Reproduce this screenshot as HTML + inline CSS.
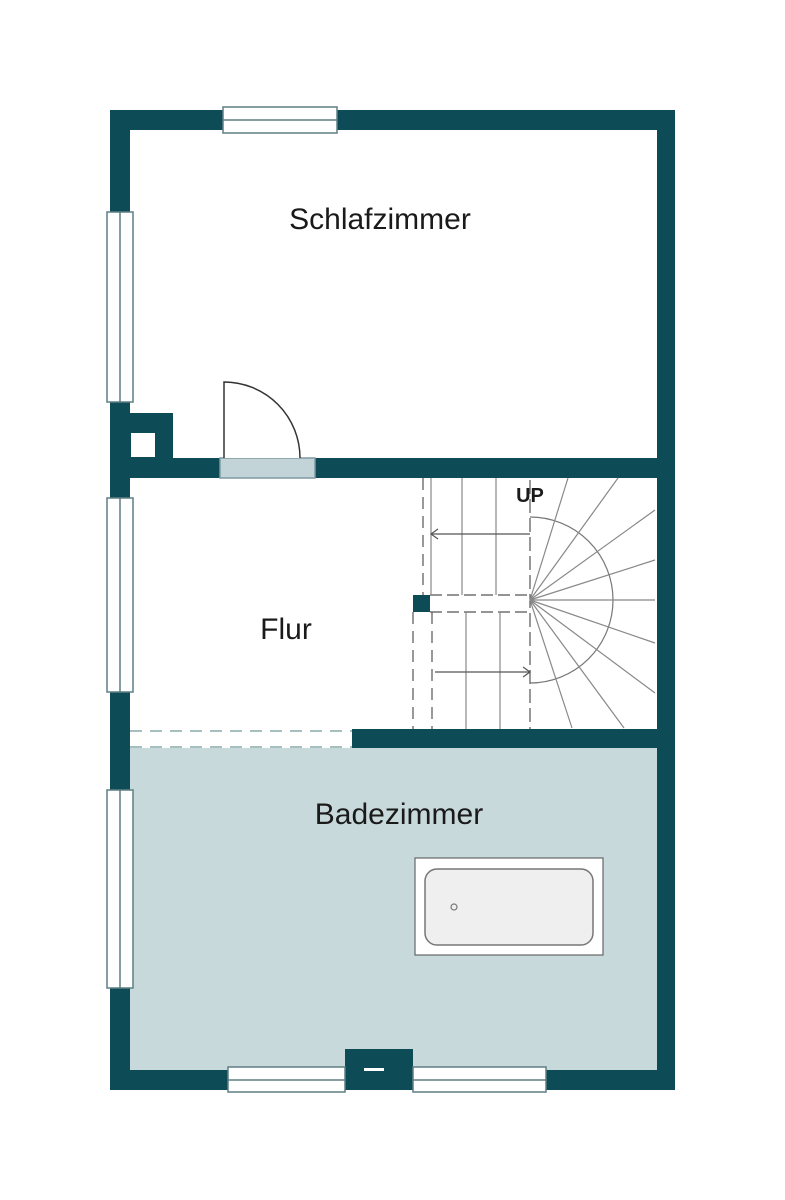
<!DOCTYPE html>
<html><head><meta charset="utf-8"><style>
html,body{margin:0;padding:0;background:#fff;}
svg{display:block;}
text{font-family:"Liberation Sans",Arial,sans-serif;fill:#1a1a1a;}
</style></head><body>
<svg width="785" height="1200" viewBox="0 0 785 1200" xmlns="http://www.w3.org/2000/svg">
<rect width="785" height="1200" fill="#fff"/>
<rect x="130" y="748" width="527" height="322" fill="#c8d9dc"/>
<g fill="#0d4c56">
<rect x="110" y="110" width="565" height="20"/>
<rect x="110" y="1070" width="565" height="20"/>
<rect x="110" y="110" width="20" height="980"/>
<rect x="657" y="110" width="18" height="980"/>
<rect x="130" y="458" width="90" height="20"/>
<rect x="315" y="458" width="342" height="20"/>
<rect x="128" y="413" width="45" height="47"/>
<rect x="352" y="729" width="305" height="19"/>
<rect x="345" y="1049" width="68" height="41"/>
<rect x="413" y="595" width="17" height="17"/>
</g>
<rect x="131" y="433" width="24" height="24" fill="#fff"/>
<rect x="364" y="1068" width="20" height="3" fill="#fff"/>
<g fill="#fff" stroke="#5e7f84" stroke-width="1.5">
<rect x="223" y="107" width="114" height="26"/>
<line x1="223" y1="120" x2="337" y2="120"/>
<rect x="107" y="212" width="26" height="190"/>
<line x1="120" y1="212" x2="120" y2="402"/>
<rect x="107" y="498" width="26" height="194"/>
<line x1="120" y1="498" x2="120" y2="692"/>
<rect x="107" y="790" width="26" height="198"/>
<line x1="120" y1="790" x2="120" y2="988"/>
<rect x="228" y="1067" width="117" height="25"/>
<line x1="228" y1="1080" x2="345" y2="1080"/>
<rect x="413" y="1067" width="133" height="25"/>
<line x1="413" y1="1080" x2="546" y2="1080"/>
</g>
<rect x="220" y="458" width="95" height="20" fill="#c2d4d8" stroke="#7f9aa0" stroke-width="1.5"/>
<path d="M224 458 L224 382 A76 76 0 0 1 300 458" fill="#fff" stroke="#333" stroke-width="1.5"/>
<rect x="130" y="729" width="222" height="19" fill="#fff"/>
<g stroke="#8aa" stroke-width="1.5" stroke-dasharray="12,8" fill="none">
<line x1="130" y1="731" x2="352" y2="731"/>
<line x1="130" y1="747" x2="352" y2="747"/>
</g>
<g stroke="#555" stroke-width="1.2" fill="none">
<line x1="423" y1="478" x2="423" y2="595" stroke-dasharray="12,7"/>
<line x1="413" y1="612" x2="413" y2="729" stroke-dasharray="12,7"/>
<line x1="432" y1="612" x2="432" y2="729" stroke-dasharray="12,7"/>
<line x1="430" y1="595" x2="530" y2="595" stroke-dasharray="12,5"/>
<line x1="430" y1="612" x2="530" y2="612" stroke-dasharray="12,5"/>
<line x1="530" y1="480" x2="530" y2="729" stroke-dasharray="14,5"/>
<line x1="431" y1="478" x2="431" y2="595" stroke="#888"/>
<line x1="462" y1="478" x2="462" y2="595" stroke="#888"/>
<line x1="496" y1="478" x2="496" y2="595" stroke="#888"/>
<line x1="466" y1="612" x2="466" y2="729" stroke="#888"/>
<line x1="500" y1="612" x2="500" y2="729" stroke="#888"/>
<line x1="530" y1="534" x2="431" y2="534"/>
<path d="M438 529 L431 534 L438 539"/>
<line x1="435" y1="672" x2="530" y2="672"/>
<path d="M523 667 L530 672 L523 677"/>
<path d="M530 517 A83 83 0 0 1 530 683" stroke="#777"/>
<g stroke="#888">
<line x1="530" y1="600" x2="568" y2="478"/>
<line x1="530" y1="600" x2="618" y2="478"/>
<line x1="530" y1="600" x2="655" y2="510"/>
<line x1="530" y1="600" x2="655" y2="560"/>
<line x1="530" y1="600" x2="655" y2="600"/>
<line x1="530" y1="600" x2="655" y2="643"/>
<line x1="530" y1="600" x2="655" y2="693"/>
<line x1="530" y1="600" x2="624" y2="728"/>
<line x1="530" y1="600" x2="572" y2="728"/>
</g>
</g>
<text x="530" y="502" font-size="20" font-weight="bold" text-anchor="middle">UP</text>
<rect x="415" y="858" width="188" height="97" fill="#fff" stroke="#666" stroke-width="1.2"/>
<rect x="425" y="869" width="168" height="76" rx="12" fill="#efefef" stroke="#777" stroke-width="1.5"/>
<circle cx="454" cy="907" r="3" fill="none" stroke="#777" stroke-width="1.2"/>
<text x="380" y="229" font-size="30" text-anchor="middle">Schlafzimmer</text>
<text x="286" y="639" font-size="30" text-anchor="middle">Flur</text>
<text x="399" y="824" font-size="30" text-anchor="middle">Badezimmer</text>
</svg>
</body></html>
